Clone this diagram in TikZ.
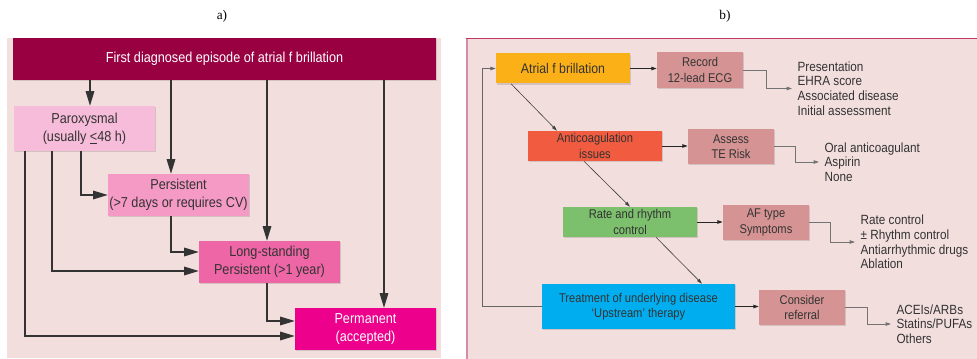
\documentclass[tikz,border=0pt]{standalone}
\usepackage{fontspec}
\setmainfont{Liberation Sans}[FakeStretch=0.88]
\newfontfamily\labelfont{Liberation Serif}
\usetikzlibrary{arrows.meta,shadows}

\definecolor{panelbg}{HTML}{F3DEDE}
\definecolor{wine}{HTML}{990042}
\definecolor{paroxpink}{HTML}{F6BCD9}
\definecolor{persistpink}{HTML}{F49AC5}
\definecolor{longpink}{HTML}{EF66A6}
\definecolor{permmagenta}{HTML}{EC008C}
\definecolor{afiborange}{HTML}{FBB017}
\definecolor{anticoagred}{HTML}{F15B40}
\definecolor{rategreen}{HTML}{7CBF6C}
\definecolor{treatcyan}{HTML}{00AEEF}
\definecolor{actionrose}{HTML}{D59493}
\definecolor{rimred}{HTML}{C5375F}
\definecolor{sidepink}{HTML}{D58CA6}
\definecolor{textgrey}{HTML}{333333}

\tikzset{
  boxshadow/.style={drop shadow={shadow xshift=1pt,shadow yshift=-1pt,fill=black,opacity=0.13}},
  % classification boxes, left panel
  stage/.style={rectangle, align=center, inner sep=1pt, text=textgrey, boxshadow,
    font=\fontsize{10.8}{13.5}\selectfont, minimum width=105.75pt, minimum height=31.5pt},
  flow/.style={draw=textgrey, line width=0.8pt, -{Triangle[length=11pt,width=6.5pt]}},
  % management boxes, right panel
  mgmt/.style={rectangle, align=center, inner sep=1pt, text=textgrey, boxshadow,
    font=\fontsize{9.5}{11.5}\selectfont, minimum width=100.5pt, minimum height=22.5pt},
  action/.style={mgmt, fill=actionrose, minimum width=64.5pt, minimum height=26.25pt},
  opts/.style={anchor=west, align=left, inner sep=4pt, text=textgrey,
    font=\fontsize{10}{11}\selectfont},
  link/.style={draw=black!85, line width=0.7pt, -{Triangle[length=4pt,width=2.6pt]}},
  elbow/.style={draw=black!55, line width=0.6pt, -{Triangle[length=4pt,width=2.6pt]}},
  diag/.style={draw=black!75, line width=0.45pt, -{Triangle[length=4pt,width=2.4pt]}},
}

\begin{document}
\begin{tikzpicture}[x=0.75pt,y=-0.75pt]
\useasboundingbox (0,0) rectangle (977,359);

% panel backgrounds
\fill[panelbg] (7,38) rectangle (441,358);
\fill[panelbg] (466,38) rectangle (977,359);
\draw[sidepink, line width=1.2pt] (466.8,359) -- (466.8,38);
\draw[rimred, line width=1pt] (466,38.6) -- (977,38.6);

\node[font=\labelfont\fontsize{10}{12}\selectfont] (lbla) at (222,16) {a)};
\node[font=\labelfont\fontsize{10}{12}\selectfont] (lblb) at (725,16) {b)};

% a) types of atrial fibrillation
\node[stage, fill=wine, text=white, minimum width=317.25pt] (title) at (224.5,59)
  {First diagnosed episode of atrial f brillation};
\node[stage, fill=paroxpink, minimum height=33.75pt] (parox) at (84.5,128.5)
  {Paroxysmal\\(usually \underline{<}48 h)};
\node[stage, fill=persistpink] (persist) at (178.5,195)
  {Persistent\\(>7 days or requires CV)};
\node[stage, fill=longpink] (longst) at (269.5,262)
  {Long-standing\\Persistent (>1 year)};
\node[stage, fill=permmagenta, text=white] (perm) at (365.5,329)
  {Permanent\\(accepted)};

\draw[flow] (title.south -| 90,0) -- (parox.north -| 90,0);
\draw[flow] (title.south -| 171,0) -- (persist.north -| 171,0);
\draw[flow] (title.south -| 267,0) -- (longst.north -| 267,0);
\draw[flow] (title.south -| 384,0) -- (perm.north -| 384,0);

\draw[flow] (parox.south -| 81,0) |- (persist.west);
\draw[flow] (parox.south -| 52,0) |- ([yshift=-6.75pt]longst.west);
\draw[flow] (parox.south -| 25,0) |- ([yshift=-5.25pt]perm.west);
\draw[flow] (persist.south -| 171,0) |- ([yshift=7.5pt]longst.west);
\draw[flow] (longst.south -| 267,0) |- ([yshift=6pt]perm.west);

% b) management
\node[mgmt, fill=afiborange, font=\fontsize{10.5}{12}\selectfont] (afib) at (563,68.5)
  {Atrial f brillation};
\node[action, minimum height=27pt] (record) at (700,70) {Record\\12-lead ECG};
\node[mgmt, fill=anticoagred] (anti) at (595,146) {Anticoagulation\\issues};
\node[action] (assess) at (731,146.5) {Assess\\TE Risk};
\node[mgmt, fill=rategreen] (rate) at (630,222) {Rate and rhythm\\control};
\node[action] (aftype) at (766,222.5) {AF type\\Symptoms};
\node[mgmt, fill=treatcyan, minimum width=144.75pt, minimum height=33.75pt] (treat) at (638.5,306.5)
  {Treatment of underlying disease\\‘Upstream’ therapy};
\node[action] (consider) at (802,307.5) {Consider\\referral};

\node[opts] (list1) at (792,88.5)
  {Presentation\\EHRA score\\Associated disease\\Initial assessment};
\node[opts] (list2) at (819,162) {Oral anticoagulant\\Aspirin\\None};
\node[opts] (list3) at (855,242)
  {Rate control\\± Rhythm control\\Antiarrhythmic drugs\\Ablation};
\node[opts] (list4) at (891,324) {ACEIs/ARBs\\Statins/PUFAs\\Others};

\draw[link] (afib.east) -- (afib.east -| record.west);
\draw[link] (anti.east) -- (anti.east -| assess.west);
\draw[link] (rate.east) -- (rate.east -| aftype.west);
\draw[link] (treat.east) -- (treat.east -| consider.west);

\draw[elbow] (record.east) -- ++(23,0) |- (list1.west);
\draw[elbow] (assess.east) -- ++(21,0) |- (list2.west);
\draw[elbow] (aftype.east) -- ++(21,0) |- (list3.west);
\draw[elbow] (consider.east) -- ++(22,0) |- (list4.west);

\draw[diag] (afib.south -| 511,0) -- (anti.north -| 557,0);
\draw[diag] (anti.south -| 584,0) -- (rate.north -| 630,0);
\draw[diag] (rate.south -| 656,0) -- (treat.north -| 702,0);

% back to the start
\draw[elbow, draw=black!60, line width=0.7pt] (treat.west) -- (treat.west -| 482,0) |- (afib.west);
\end{tikzpicture}
\end{document}
